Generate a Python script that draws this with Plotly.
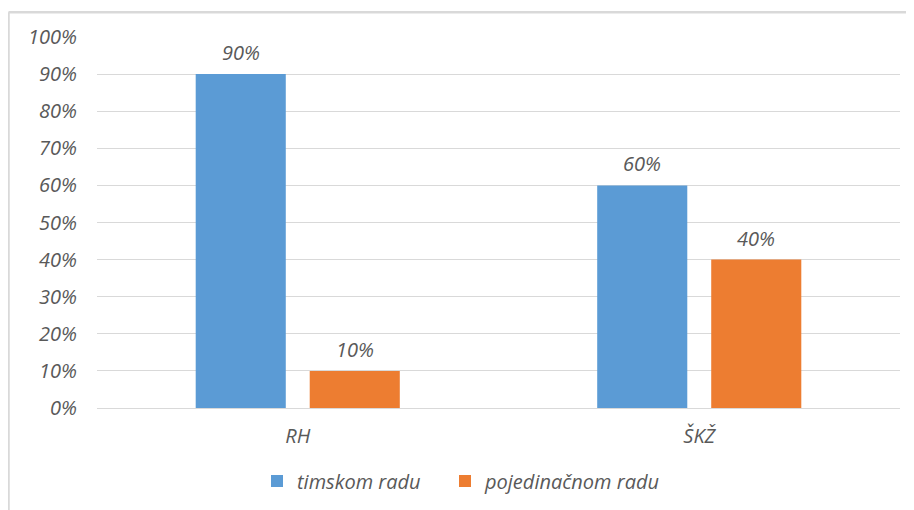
import plotly.graph_objects as go

categories = ["RH", "ŠKŽ"]
series_names = ["timskom radu", "pojedinačnom radu"]
timskom = [0.90, 0.60]
pojedinacnom = [0.10, 0.40]
colors = ["#5B9BD5", "#ED7D31"]
tick_vals = [0, 0.1, 0.2, 0.3, 0.4, 0.5, 0.6, 0.7, 0.8, 0.9, 1.0]

FONT = "Open Sans"
TXT = "#595959"
FS = 20

# page body has an 8px default margin; figure is sized to fit the 914x510 window
W, H = 906, 502
ml, mr, mt, mb = 89, 14, 29, 102
pw, ph = W - ml - mr, H - mt - mb

def px_to_paper(x, y):
    return (x - ml) / pw, (H - mb - y) / ph

fig = go.Figure()
for i, (name, vals, col) in enumerate(zip(series_names, [timskom, pojedinacnom], colors)):
    fig.add_trace(go.Bar(
        x=categories, y=vals, name=name, marker=dict(color=col, line=dict(width=0)),
        legend="legend" if i == 0 else "legend2",
    ))

# data labels above bars
for vals, shift in zip([timskom, pojedinacnom], [-57, 57]):
    for c, v in zip(categories, vals):
        fig.add_annotation(x=c, y=v, text=f"{round(v*100)}%", showarrow=False,
                           xshift=shift, yshift=6, yanchor="bottom",
                           font=dict(family=FONT, size=FS, color=TXT, style="italic"))

# chart border (top and left visible)
x0, y0 = px_to_paper(0.5, 4.2)
x1, _ = px_to_paper(W, 4.2)
_, y1 = px_to_paper(0.5, H)
fig.add_shape(type="line", xref="paper", yref="paper", x0=x0, y0=y0, x1=x1, y1=y0,
              line=dict(color="#D9D9D9", width=2.5))
fig.add_shape(type="line", xref="paper", yref="paper", x0=x0, y0=y0, x1=x0, y1=y1,
              line=dict(color="#D9D9D9", width=2.5))

lx1, _ = px_to_paper(249, 0)
lx2, _ = px_to_paper(437, 0)
_, ly = px_to_paper(0, 473)
legfont = dict(family=FONT, size=FS, color=TXT, style="italic")

fig.update_layout(
    width=W, height=H,
    margin=dict(l=ml, r=mr, t=mt, b=mb, autoexpand=False),
    paper_bgcolor="white", plot_bgcolor="white",
    barmode="group", bargap=0.432, bargroupgap=0.21,
    font=dict(family=FONT, size=FS, color=TXT, style="italic"),
    yaxis=dict(range=[0, 1.0], tickvals=tick_vals, tickformat=".0%",
               showgrid=True, gridcolor="#D9D9D9", gridwidth=1, zeroline=False,
               showline=False, ticks="", ticklabelstandoff=19,
               tickfont=dict(family=FONT, size=FS, color=TXT, style="italic")),
    xaxis=dict(showline=True, linecolor="#D9D9D9", linewidth=1, ticks="",
               tickfont=dict(family=FONT, size=FS, color=TXT, style="italic"),
               ticklabelstandoff=10),
    legend=dict(orientation="h", x=lx1, xanchor="left", y=ly,
                yanchor="middle", font=legfont),
    legend2=dict(orientation="h", x=lx2, xanchor="left", y=ly,
                 yanchor="middle", font=legfont),
    showlegend=True,
)

fig.write_html("out.html")
